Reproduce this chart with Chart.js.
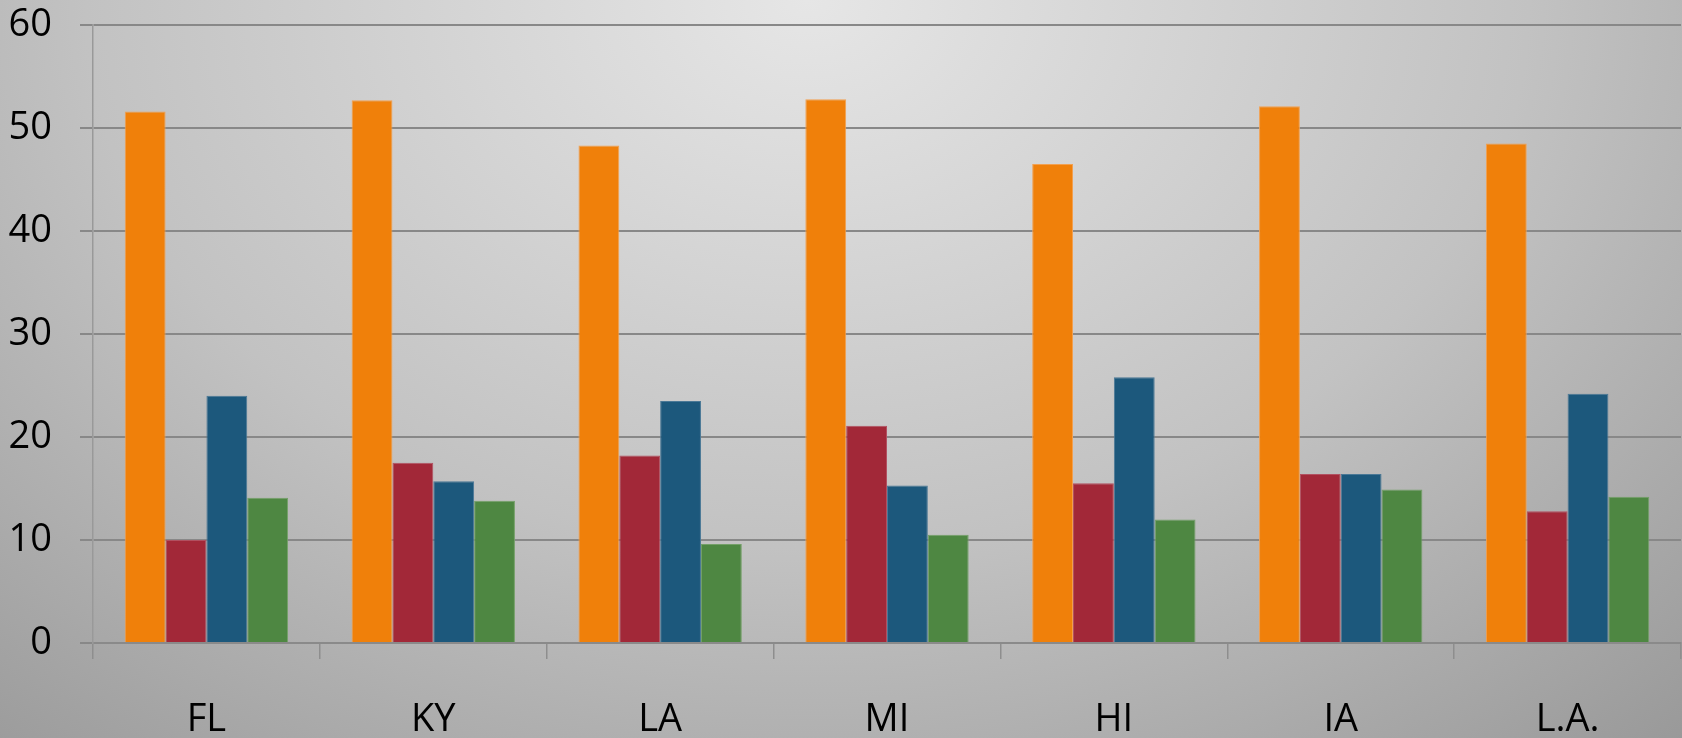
<!DOCTYPE html>
<html>
<head>
<meta charset="utf-8">
<script src="https://cdn.jsdelivr.net/npm/chart.js@4/dist/chart.umd.min.js"></script>
<style>
    html, body {
        margin: 0;
        padding: 0;
        overflow: hidden;
    }
    body {
        width: 1682px;
        height: 738px;
        background: radial-gradient(ellipse 78% 135% at 48% 0%, #e6e6e6 0%, #c2c2c2 55%, #999999 100%);
    }
    #wrap {
        position: relative;
        width: 1682px;
        height: 738px;
    }
</style>
</head>
<body>
<div id="wrap"><canvas id="bar-chart"></canvas></div>
<script>
// Categories and the four series per state
const states = ["FL", "KY", "LA", "MI", "HI", "IA", "L.A."];
const series1 = [51.6, 52.7, 48.3, 52.8, 46.5, 52.1, 48.5];
const series2 = [10.0, 17.5, 18.2, 21.1, 15.5, 16.4, 12.8];
const series3 = [24.0, 15.7, 23.5, 15.3, 25.8, 16.4, 24.2];
const series4 = [14.1, 13.8, 9.6, 10.5, 12.0, 14.9, 14.2];
const yTicks = [0, 10, 20, 30, 40, 50, 60];

const colors = ["#f0800a", "#a22838", "#1c587c", "#4e8742"];
const edges = ["#f2a050", "#b25060", "#4a7896", "#74a068"];

document.addEventListener("DOMContentLoaded", function () {
    const ctx = document.getElementById("bar-chart").getContext("2d");
    const font = { family: "'Open Sans', sans-serif", size: 38 };

    const datasets = [series1, series2, series3, series4].map(function (values, i) {
        return {
            label: "Series " + (i + 1),
            data: values,
            backgroundColor: colors[i],
            borderColor: edges[i],
            borderWidth: 1,
            barPercentage: 1.0,
            categoryPercentage: 0.72,
        };
    });

    new Chart(ctx, {
        type: "bar",
        data: { labels: states, datasets: datasets },
        options: {
            responsive: true,
            maintainAspectRatio: false,
            animation: false,
            layout: { padding: { top: 0, right: 1, left: 0, bottom: 0 } },
            plugins: {
                legend: { display: false },
                tooltip: { enabled: false },
            },
            scales: {
                x: {
                    grid: {
                        offset: true,
                        drawOnChartArea: false,
                        drawTicks: true,
                        tickLength: 16,
                        color: "#8e8e8e",
                        lineWidth: 1.5,
                    },
                    border: { color: "#8a8a8a", width: 2 },
                    ticks: { color: "#000", font: font, padding: 38, maxRotation: 0 },
                    afterFit: function (scale) { scale.height = 95; },
                },
                y: {
                    min: 0,
                    max: 60,
                    afterBuildTicks: function (scale) {
                        scale.ticks = yTicks.map(v => ({ value: v }));
                    },
                    grid: {
                        color: "#888888",
                        lineWidth: 2,
                        tickLength: 13,
                    },
                    border: { color: "#999", width: 1.5 },
                    ticks: { color: "#000", font: font, padding: 28 },
                    afterFit: function (scale) {
                        // keep the axis narrow and the "60" line close to the top edge
                        scale.width = 93;
                        scale.paddingTop = 25;
                        scale.paddingBottom = 0;
                    },
                },
            },
        },
    });
});
</script>
</body>
</html>
